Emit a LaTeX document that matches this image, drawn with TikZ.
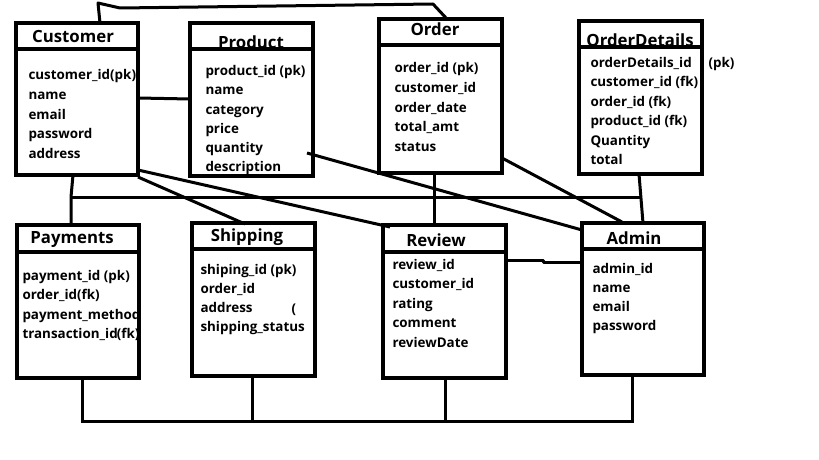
\documentclass[tikz,border=0pt]{standalone}
\usepackage{fontspec}
\setmainfont{Open Sans}
\begin{document}
\begin{tikzpicture}[x=1pt,y=-1pt,
  line width=3pt,
  ent/.style={draw, line width=3.2pt, inner sep=0pt, outer sep=0pt, anchor=north west},
  divl/.style={line width=3.2pt},
  ttl/.style={font=\fontsize{16.8}{19}\selectfont\bfseries, inner sep=0pt},
  attr/.style={font=\fontsize{13.4}{15}\selectfont\bfseries, inner sep=0pt, anchor=west, text height=9.5pt, text depth=2.5pt, yshift=-1.5pt},
  wire/.style={line width=3pt, line join=round}]
\fill[white] (0,0) rectangle (819,460);
\useasboundingbox (0,0) rectangle (819,460);

% ---------- entity boxes ----------
\node[ent, minimum width=122pt, minimum height=152pt] (cust) at (16,23) {};
\node[ent, minimum width=123pt, minimum height=153pt] (prod) at (190,23) {};
\node[ent, minimum width=123pt, minimum height=154pt] (ord)  at (379,19) {};
\node[ent, minimum width=123pt, minimum height=153pt] (od)   at (579,21) {};
\node[ent, minimum width=122pt, minimum height=153pt] (pay)  at (17,225) {};
\node[ent, minimum width=123pt, minimum height=153pt] (ship) at (192,223) {};
\node[ent, minimum width=123pt, minimum height=153pt] (rev)  at (383,225) {};
\node[ent, minimum width=122pt, minimum height=152pt] (adm)  at (582,223) {};

% header dividers
\draw[divl] ([yshift=-26pt]cust.north west) -- ([yshift=-26pt]cust.north east);
\draw[divl] ([yshift=-26pt]prod.north west) -- ([yshift=-26pt]prod.north east);
\draw[divl] ([yshift=-26pt]ord.north west) -- ([yshift=-26pt]ord.north east);
\draw[divl] ([yshift=-26pt]od.north west) -- ([yshift=-26pt]od.north east);
\draw[divl] ([yshift=-27pt]pay.north west) -- ([yshift=-27pt]pay.north east);
\draw[divl] ([yshift=-26pt]ship.north west) -- ([yshift=-26pt]ship.north east);
\draw[divl] ([yshift=-27pt]rev.north west) -- ([yshift=-27pt]rev.north east);
\draw[divl] ([yshift=-26pt]adm.north west) -- ([yshift=-26pt]adm.north east);

% ---------- titles ----------
\node[ttl] (tcust) at (73,37) {Customer};
\node[ttl] (tprod) at (251,42) {Product};
\node[ttl] (tord)  at (435,29) {Order};
\node[ttl] (tod)   at (640,40) {OrderDetails};
\node[ttl] (tpay)  at (72,240) {Payments};
\node[ttl] (tship) at (247,237) {Shipping};
\node[ttl] (trev)  at (436,240) {Review};
\node[ttl] (tadm)  at (634,238) {Admin};

% ---------- attributes ----------
\foreach \t [count=\i from 0] in {customer\_id(pk),name,email,password,address}
  \node[attr] (ca\i) at (27,75+\i*19.5) {\t};
\foreach \t [count=\i from 0] in {product\_id (pk),name,category,price,quantity,description}
  \node[attr] (pa\i) at (204,71+\i*19) {\t};
\foreach \t [count=\i from 0] in {order\_id (pk),customer\_id,order\_date,total\_amt,status}
  \node[attr] (oa\i) at (393,68+\i*19.5) {\t};
\foreach \t [count=\i from 0] in {orderDetails\_id,customer\_id (fk),order\_id (fk),product\_id (fk),Quantity,total}
  \node[attr] (da\i) at (589,62+\i*19.5) {\t};
\node[attr] (dpk) at (707,62) {(pk)};
\begin{scope}
  \clip (pay.north west) rectangle (pay.south east);
  \foreach \t [count=\i from 0] in {payment\_id (pk),order\_id(fk),payment\_method}
    \node[attr] (ya\i) at (21,275+\i*19.5) {\t};
\end{scope}
\node[attr] (ya3) at (21,333.5) {transaction\_id\kern-0.8pt(fk)};
\foreach \t [count=\i from 0] in {shiping\_id (pk),order\_id,address,shipping\_status}
  \node[attr] (sa\i) at (199,269+\i*19.3) {\t};
\node[attr] (spar) at (290,308) {(};
\foreach \t [count=\i from 0] in {review\_id,customer\_id,rating,comment,reviewDate}
  \node[attr] (ra\i) at (391,264+\i*19.5) {\t};
\foreach \t [count=\i from 0] in {admin\_id,name,email,password}
  \node[attr] (aa\i) at (591,268+\i*19.3) {\t};

% ---------- connectors ----------
% Customer -> Order (over the top)
\draw[wire] ([xshift=84pt]cust.north west) -- (98,3) -- (120,8) -- (433,4) -- ([xshift=68pt]ord.north west);
% Customer -- Product
\draw[wire] ([yshift=-75pt]cust.north east) -- ([yshift=-76pt]prod.north west);
% Customer -- Payments with shared bus to OrderDetails
\coordinate (j1) at (71,197);
\coordinate (j2) at (640,197);
\draw[wire] ([xshift=57pt]cust.south west) -- (j1) -- ([xshift=54pt]pay.north west);
\draw[wire] (j1) -- (j2);
\draw[wire] ([xshift=60pt]od.south west) -- ([xshift=61pt]adm.north west);
% Customer -- Review, Customer -- Shipping
\draw[wire] ([yshift=5pt]cust.south east) -- ([xshift=7pt,yshift=-2pt]rev.north west);
\draw[wire] ([yshift=-2pt]cust.south east) -- ([xshift=53pt,yshift=-1pt]ship.north west);
% Product (quantity) -- Admin
\coordinate (pq) at (307,153);
\draw[wire] (pq) -- ([yshift=-7pt]adm.north west);
% Order -- Admin
\draw[wire] ([yshift=15pt]ord.south east) -- ([xshift=40pt,yshift=1pt]adm.north west);
% Order -- Review
\draw[wire] ([xshift=55pt]ord.south west) -- ([xshift=51pt]rev.north west);
% Review -- Admin
\draw[wire] ([yshift=-35pt]rev.north east) -- (543,260) -- (543,262) -- ([yshift=-39pt]adm.north west);
% bottom bus
\coordinate (b1) at (82,421);
\coordinate (b2) at (252,421);
\coordinate (b3) at (445,421);
\coordinate (b4) at (632,421);
\draw[wire] ([xshift=65pt]pay.south west) -- (b1);
\draw[wire] ([xshift=60pt]ship.south west) -- (b2);
\draw[wire] ([xshift=62pt]rev.south west) -- (b3);
\draw[wire] ([xshift=50pt]adm.south west) -- (b4);
\draw[wire, line cap=rect] (b1) -- (b4);
\end{tikzpicture}
\end{document}
